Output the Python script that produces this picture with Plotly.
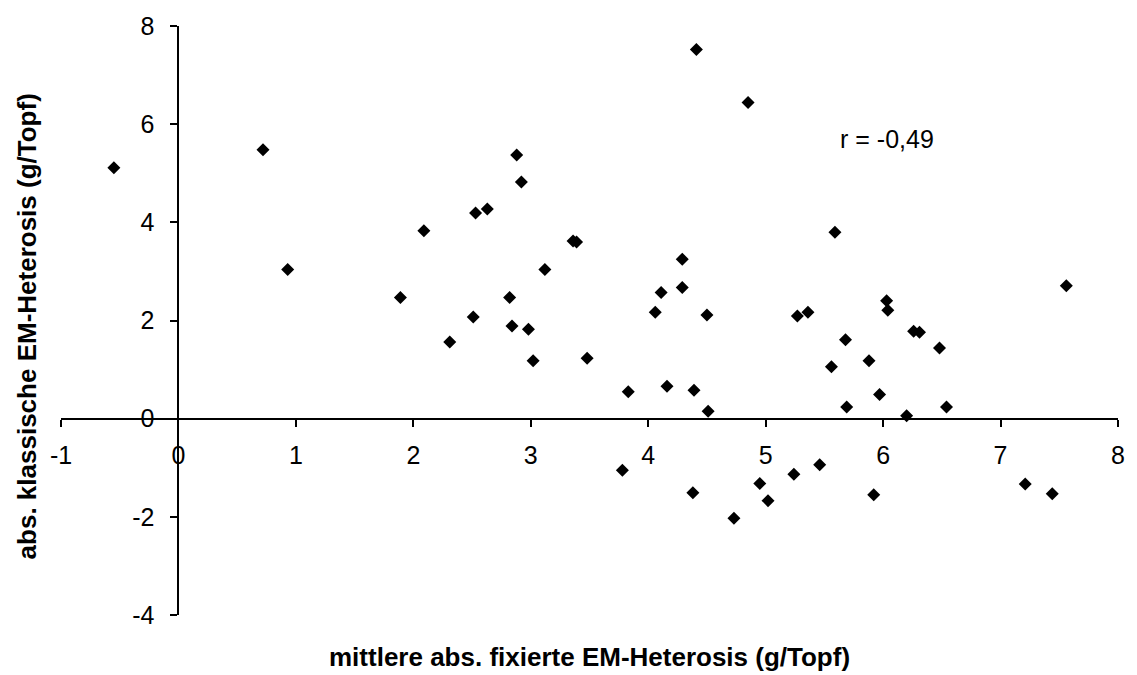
import plotly.graph_objects as go

# Data (x: mittlere abs. fixierte EM-Heterosis, y: abs. klassische EM-Heterosis)
x_vals = [-0.55, 0.72, 0.93, 1.89, 2.09, 2.31, 2.51, 2.53, 2.63, 2.82, 2.84, 2.88, 2.92, 2.98,
          3.02, 3.12, 3.36, 3.39, 3.48, 3.78, 3.83, 4.06, 4.11, 4.16, 4.29, 4.29, 4.38, 4.39,
          4.41, 4.50, 4.51, 4.73, 4.85, 4.95, 5.02, 5.24, 5.27, 5.36, 5.46, 5.56, 5.59, 5.68,
          5.69, 5.88, 5.92, 5.97, 6.03, 6.04, 6.20, 6.26, 6.31, 6.48, 6.54, 7.21, 7.44, 7.56]
y_vals = [5.11, 5.48, 3.04, 2.47, 3.83, 1.56, 2.07, 4.19, 4.27, 2.47, 1.89, 5.37, 4.82, 1.82,
          1.18, 3.04, 3.62, 3.60, 1.23, -1.05, 0.55, 2.17, 2.57, 0.66, 3.25, 2.67, -1.51, 0.58,
          7.52, 2.11, 0.15, -2.03, 6.44, -1.32, -1.67, -1.13, 2.09, 2.17, -0.94, 1.06, 3.80, 1.61,
          0.24, 1.18, -1.55, 0.49, 2.40, 2.21, 0.06, 1.78, 1.76, 1.44, 0.24, -1.33, -1.53, 2.71]

x_ticks = [-1, 0, 1, 2, 3, 4, 5, 6, 7, 8]
y_ticks = [-4, -2, 0, 2, 4, 6, 8]
x_title = "mittlere abs. fixierte EM-Heterosis (g/Topf)"
y_title = "abs. klassische EM-Heterosis (g/Topf)"
r_label = "r = -0,49"

FONT = "Arial, Liberation Sans, sans-serif"

fig = go.Figure()
fig.add_trace(go.Scatter(
    x=x_vals, y=y_vals, mode="markers",
    marker=dict(symbol="diamond", size=10, color="black", line=dict(width=0)),
    showlegend=False, hoverinfo="x+y",
))

axis_common = dict(
    showgrid=False, zeroline=False, showline=True, linecolor="black", linewidth=2,
    ticks="outside", ticklen=7, tickwidth=2, tickcolor="black",
    tickfont=dict(family=FONT, size=25, color="black"),
    anchor="free",
)

fig.update_layout(
    width=1137, height=675,
    margin=dict(l=61, r=18, t=20, b=60),
    paper_bgcolor="white", plot_bgcolor="white",
    xaxis=dict(range=[-1, 8], tickvals=x_ticks, ticktext=[str(v) for v in x_ticks],
               position=1/3, ticklabelstandoff=7, **axis_common),
    yaxis=dict(range=[-4, 8], tickvals=y_ticks, ticktext=[str(v) for v in y_ticks],
               position=1/9, ticklabelstandoff=11, **axis_common),
    annotations=[
        dict(text=x_title, xref="paper", yref="paper", x=0.5, y=-0.072,
             xanchor="center", yanchor="middle", showarrow=False,
             font=dict(family=FONT, size=26, color="black", weight="bold")),
        dict(text=y_title, xref="paper", yref="paper", x=0, xshift=-34, y=0.49,
             xanchor="center", yanchor="middle", showarrow=False, textangle=-90,
             font=dict(family=FONT, size=26, color="black", weight="bold")),
        dict(text=r_label, x=5.62, y=5.7, xref="x", yref="y",
             xanchor="left", yanchor="middle", showarrow=False,
             font=dict(family=FONT, size=25, color="black")),
    ],
)

fig.write_html("out.html")
